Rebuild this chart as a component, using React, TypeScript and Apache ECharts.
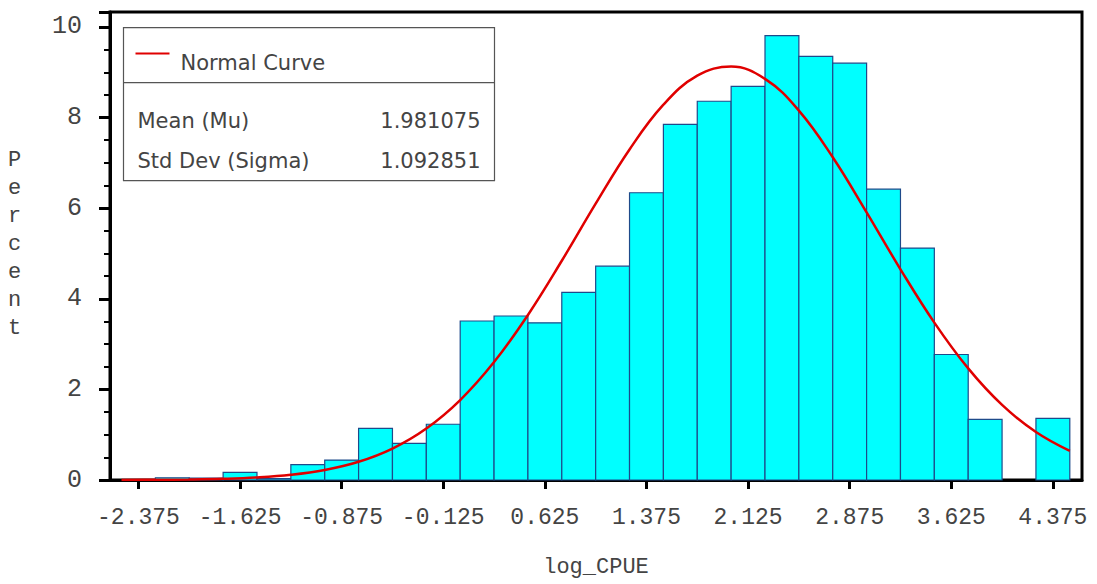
import React, { useEffect, useRef } from "react";
import * as echarts from "echarts";

// Histogram bin midpoints (log_CPUE) and percent heights
const binMidpoints = [
  -2.375, -2.125, -1.875, -1.625, -1.375, -1.125, -0.875, -0.625, -0.375, -0.125,
  0.125, 0.375, 0.625, 0.875, 1.125, 1.375, 1.625, 1.875, 2.125, 2.375,
  2.625, 2.875, 3.125, 3.375, 3.625, 3.875, 4.125, 4.375,
];
const binPercents = [
  0, 0.05, 0.04, 0.17, 0.03, 0.34, 0.44, 1.14, 0.81, 1.23,
  3.51, 3.62, 3.47, 4.14, 4.72, 6.34, 7.85, 8.36, 8.69, 9.81,
  9.35, 9.2, 6.42, 5.12, 2.77, 1.34, 0, 1.36,
];
const binWidth = 0.25;

// Normal curve
const curveX = [
  -2.5, -2.25, -2.0, -1.75, -1.5, -1.25, -1.0, -0.75, -0.5, -0.25,
  0.0, 0.25, 0.5, 0.75, 1.0, 1.25, 1.5, 1.75, 2.0, 2.25,
  2.5, 2.75, 3.0, 3.25, 3.5, 3.75, 4.0, 4.25, 4.5,
];
const curveY = [
  0.002, 0.005, 0.012, 0.027, 0.057, 0.115, 0.221, 0.402, 0.694, 1.136,
  1.765, 2.603, 3.643, 4.839, 6.099, 7.296, 8.284, 8.925, 9.125, 8.854,
  8.154, 7.125, 5.909, 4.651, 3.474, 2.463, 1.657, 1.058, 0.641,
];

const xTickValues = [-2.375, -1.625, -0.875, -0.125, 0.625, 1.375, 2.125, 2.875, 3.625, 4.375];
const xTickLabels = ["-2.375", "-1.625", "-0.875", "-0.125", "0.625", "1.375", "2.125", "2.875", "3.625", "4.375"];

const meanLabel = "Mean (Mu)";
const meanValue = "1.981075";
const sdLabel = "Std Dev (Sigma)";
const sdValue = "1.092851";

const TXT = "#444444";
const TICK_FONT = "'Liberation Mono', 'DejaVu Sans Mono', monospace";
const BOX_FONT = "'DejaVu Sans', 'Liberation Sans', sans-serif";

export default function App() {
  const ref = useRef<HTMLDivElement>(null);

  useEffect(() => {
    if (!ref.current) return;
    const chart = echarts.init(ref.current, undefined, { renderer: "svg" });

    const barData = binMidpoints.map((m, i) => [m, binPercents[i]]);
    const curveData = curveX.map((x, i) => [x, curveY[i]]);

    const option: any = {
      animation: false,
      backgroundColor: "#ffffff",
      grid: {
        left: 110,
        right: 15,
        top: 12,
        bottom: 104,
        containLabel: false,
        outerBoundsMode: "none",
        show: true,
        borderColor: "#000000",
        borderWidth: 3,
        backgroundColor: "transparent",
      },
      xAxis: {
        type: "value",
        min: -2.585,
        max: 4.59,
        splitLine: { show: false },
        axisLine: { show: true, onZero: false, lineStyle: { color: "#000", width: 3 } },
        axisTick: {
          show: true,
          customValues: xTickValues,
          length: 9,
          inside: false,
          lineStyle: { color: "#000", width: 3 },
        },
        axisLabel: {
          customValues: xTickValues,
          formatter: (v: number) => {
            const idx = xTickValues.findIndex((t) => Math.abs(t - v) < 1e-6);
            return idx >= 0 ? xTickLabels[idx] : "";
          },
          color: TXT,
          fontFamily: TICK_FONT,
          fontSize: 23,
          margin: 26,
        },
        name: "log_CPUE",
        nameLocation: "middle",
        nameGap: 76,
        nameTextStyle: { color: TXT, fontFamily: TICK_FONT, fontSize: 22 },
      },
      yAxis: {
        type: "value",
        min: 0,
        max: 10.33,
        interval: 2,
        splitLine: { show: false },
        axisLine: { show: true, onZero: false, lineStyle: { color: "#000", width: 3 } },
        axisTick: { show: true, length: 11, lineStyle: { color: "#000", width: 3 } },
        minorTick: { show: true, splitNumber: 4, length: 6, lineStyle: { color: "#000", width: 2 } },
        axisLabel: {
          showMaxLabel: false,
          color: TXT,
          fontFamily: TICK_FONT,
          fontSize: 25,
          margin: 28,
        },
      },
      series: [
        {
          type: "custom",
          z: 2,
          data: barData,
          renderItem: (params: any, api: any) => {
            const mid = api.value(0);
            const val = api.value(1);
            if (!val) return null;
            const p0 = api.coord([mid - binWidth / 2, val]);
            const p1 = api.coord([mid + binWidth / 2, 0]);
            return {
              type: "rect",
              shape: { x: p0[0], y: p0[1], width: p1[0] - p0[0], height: p1[1] - p0[1] },
              style: { fill: "#00FFFF", stroke: "#1E4A8A", lineWidth: 1.2 },
            };
          },
        },
        {
          type: "line",
          z: 3,
          data: curveData,
          smooth: 0.4,
          showSymbol: false,
          lineStyle: { color: "#E00000", width: 2.5 },
        },
      ],
      graphic: [
        {
          type: "text",
          left: 8,
          top: 146,
          style: {
            text: "P\ne\nr\nc\ne\nn\nt",
            fill: TXT,
            font: `22px ${TICK_FONT}`,
            lineHeight: 28,
            align: "left",
          },
        },
        {
          type: "group",
          left: 121,
          top: 27,
          z: 10,
          children: [
            {
              type: "rect",
              shape: { x: 0, y: 0, width: 371, height: 153 },
              style: { fill: "#ffffff", stroke: "#555555", lineWidth: 1.2 },
            },
            {
              type: "line",
              shape: { x1: 0, y1: 55, x2: 371, y2: 55 },
              style: { stroke: "#555555", lineWidth: 1.2 },
            },
            {
              type: "line",
              shape: { x1: 12, y1: 26, x2: 46, y2: 26 },
              style: { stroke: "#E00000", lineWidth: 2 },
            },
            {
              type: "text",
              x: 57,
              y: 35,
              style: { text: "Normal Curve", fill: TXT, font: `21px ${BOX_FONT}`, textVerticalAlign: "middle" },
            },
            {
              type: "text",
              x: 14,
              y: 93,
              style: { text: meanLabel, fill: TXT, font: `21px ${BOX_FONT}`, textVerticalAlign: "middle" },
            },
            {
              type: "text",
              x: 357,
              y: 93,
              style: { text: meanValue, fill: TXT, font: `21px ${BOX_FONT}`, textAlign: "right", textVerticalAlign: "middle" },
            },
            {
              type: "text",
              x: 14,
              y: 133,
              style: { text: sdLabel, fill: TXT, font: `21px ${BOX_FONT}`, textVerticalAlign: "middle" },
            },
            {
              type: "text",
              x: 357,
              y: 133,
              style: { text: sdValue, fill: TXT, font: `21px ${BOX_FONT}`, textAlign: "right", textVerticalAlign: "middle" },
            },
          ],
        },
      ],
    };

    chart.setOption(option);
    return () => chart.dispose();
  }, []);

  return (
    <div
      ref={ref}
      style={{ position: "fixed", left: 0, top: 0, width: 1097, height: 584, background: "#fff" }}
    />
  );
}
